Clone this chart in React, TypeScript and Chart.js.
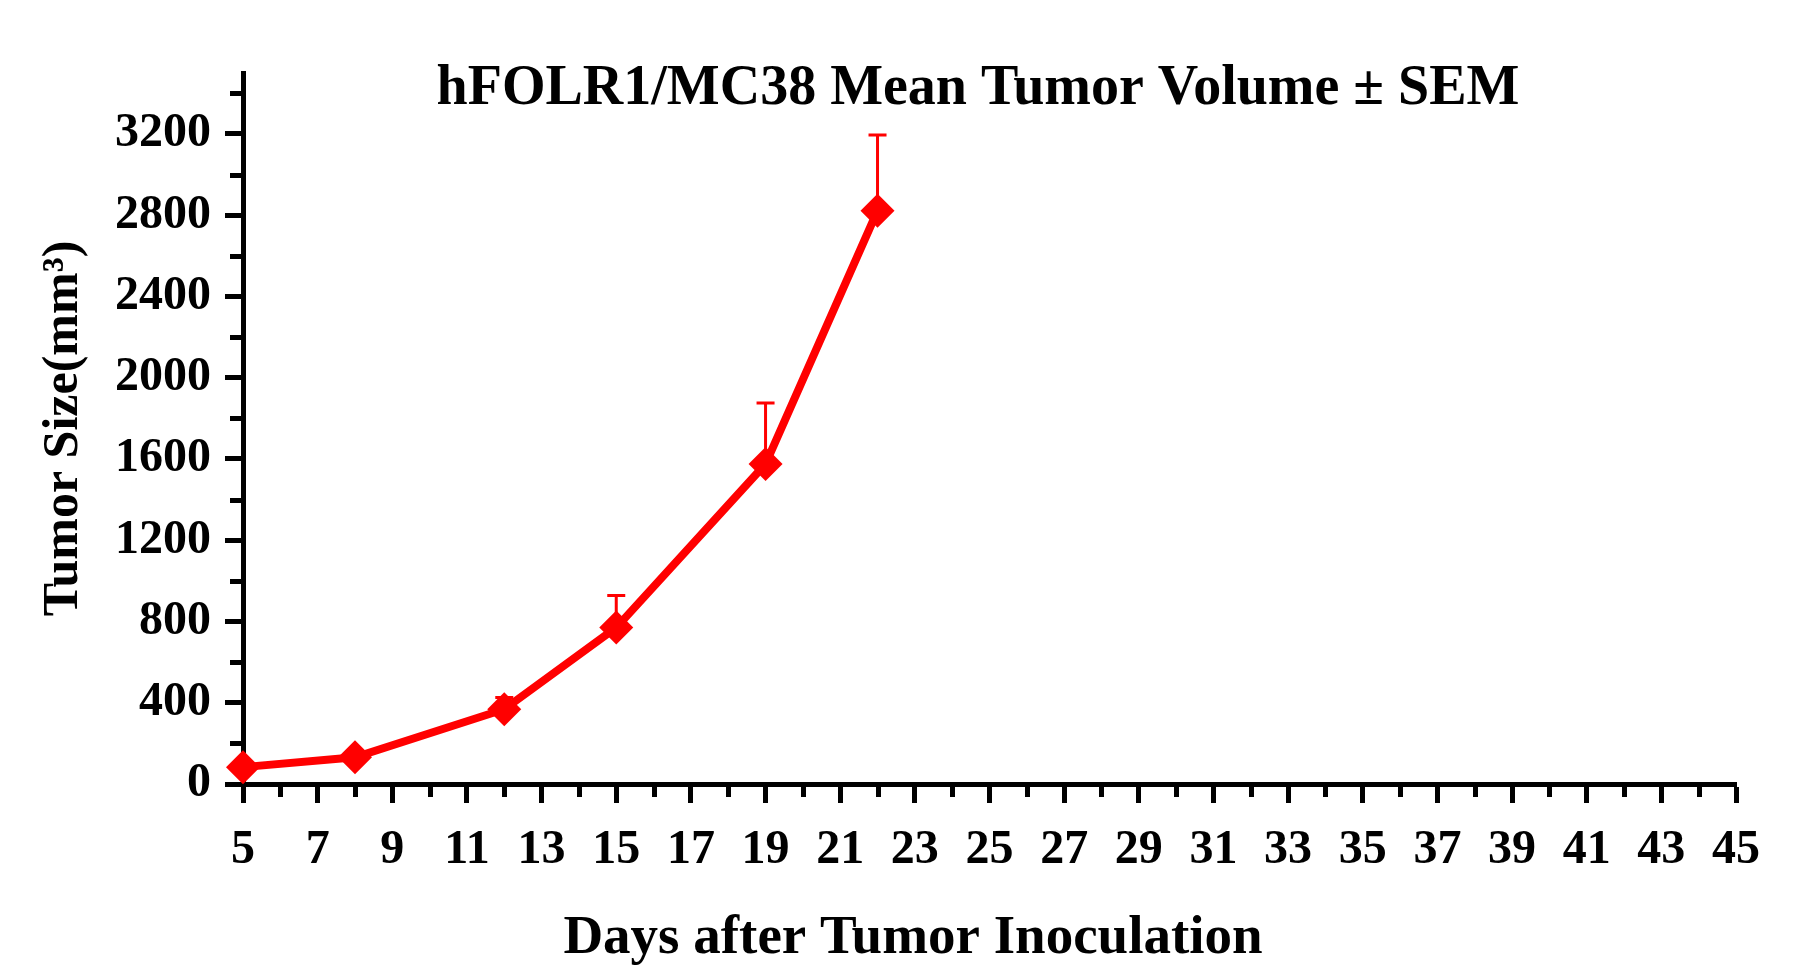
import React, { useEffect, useRef } from 'react';
import { Chart, registerables } from 'chart.js';

Chart.register(...registerables);

// ---- data ----
const days = [5, 8, 12, 15, 19, 22];
const meanVolume = [83, 132, 368, 770, 1575, 2822];
const semVolume = [15, 25, 58, 158, 300, 373];

const xMajorTicks = [5, 7, 9, 11, 13, 15, 17, 19, 21, 23, 25, 27, 29, 31, 33, 35, 37, 39, 41, 43, 45];
const xMinorTicks = [6, 8, 10, 12, 14, 16, 18, 20, 22, 24, 26, 28, 30, 32, 34, 36, 38, 40, 42, 44];
const yMajorTicks = [0, 400, 800, 1200, 1600, 2000, 2400, 2800, 3200];
const yMinorTicks = [200, 600, 1000, 1400, 1800, 2200, 2600, 3000, 3400];

const chartTitle = 'hFOLR1/MC38 Mean Tumor Volume \u00B1 SEM';
const xTitle = 'Days after Tumor Inoculation';
const yTitle = 'Tumor Size(mm\u00B3)';

const FONT = '"Liberation Serif", "Times New Roman", serif';
const RED = '#ff0000';

const W = 1802;
const H = 978;

const errorBarPlugin = {
  id: 'errorBars',
  beforeDatasetsDraw(chart: any) {
    const xs = chart.scales.x;
    const ys = chart.scales.y;
    const ctx = chart.ctx;
    ctx.save();
    ctx.strokeStyle = RED;
    ctx.lineWidth = 3;
    for (let i = 0; i < days.length; i++) {
      const x = xs.getPixelForValue(days[i]);
      const y0 = ys.getPixelForValue(meanVolume[i]);
      const y1 = ys.getPixelForValue(meanVolume[i] + semVolume[i]);
      ctx.beginPath();
      ctx.moveTo(x, y0);
      ctx.lineTo(x, y1);
      ctx.moveTo(x - 9, y1);
      ctx.lineTo(x + 9, y1);
      ctx.stroke();
    }
    ctx.restore();
  },
};

const minorTickPlugin = {
  id: 'minorTicks',
  beforeDatasetsDraw(chart: any) {
    const xs = chart.scales.x;
    const ys = chart.scales.y;
    const ctx = chart.ctx;
    const area = chart.chartArea;
    ctx.save();
    ctx.strokeStyle = '#000';
    ctx.lineWidth = 5;
    ctx.lineCap = 'butt';
    for (const v of xMinorTicks) {
      const x = Math.round(xs.getPixelForValue(v)) + 0.5;
      ctx.beginPath();
      ctx.moveTo(x, area.bottom);
      ctx.lineTo(x, area.bottom + 13);
      ctx.stroke();
    }
    for (const v of yMinorTicks) {
      const y = Math.round(ys.getPixelForValue(v)) + 0.5;
      ctx.beginPath();
      ctx.moveTo(area.left, y);
      ctx.lineTo(area.left - 13, y);
      ctx.stroke();
    }
    ctx.restore();
  },
};

const textPlugin = {
  id: 'overlayText',
  afterDraw(chart: any) {
    const ctx = chart.ctx;
    ctx.save();
    ctx.fillStyle = '#000';
    ctx.textAlign = 'center';
    ctx.textBaseline = 'alphabetic';
    ctx.font = `bold 56px ${FONT}`;
    ctx.fillText(chartTitle, 978, 104);
    ctx.font = `bold 55px ${FONT}`;
    ctx.fillText(xTitle, 913, 953);
    ctx.restore();
  },
};

export default function App() {
  const ref = useRef<HTMLCanvasElement | null>(null);

  useEffect(() => {
    if (!ref.current) return;
    const chart = new Chart(ref.current, {
      type: 'line',
      data: {
        datasets: [
          {
            label: 'hFOLR1/MC38',
            data: days.map((d, i) => ({ x: d, y: meanVolume[i] })),
            borderColor: RED,
            backgroundColor: RED,
            borderWidth: 8,
            pointStyle: 'rectRot',
            pointRadius: 17,
            pointBorderWidth: 0,
            pointBackgroundColor: RED,
            tension: 0,
            clip: false as any,
          },
        ],
      },
      options: {
        animation: false,
        responsive: false,
        devicePixelRatio: 1,
        layout: { padding: { left: 0, right: 66, top: 73, bottom: 0 } },
        plugins: {
          legend: { display: false },
          tooltip: { enabled: false },
          title: { display: false },
        },
        scales: {
          x: {
            type: 'linear',
            min: 5,
            max: 45,
            afterBuildTicks: (s: any) => {
              s.ticks = xMajorTicks.map((v) => ({ value: v }));
            },
            afterFit: (s: any) => {
              s.height = H - 784;
            },
            ticks: {
              autoSkip: false,
              maxRotation: 0,
              padding: 19,
              color: '#000',
              font: { family: FONT, size: 48, weight: 'bold' },
              callback: (v: any) => String(v),
            },
            grid: {
              drawOnChartArea: false,
              drawTicks: true,
              tickLength: 19,
              tickWidth: 5,
              tickColor: '#000',
            },
            border: { display: true, width: 5, color: '#000' },
          },
          y: {
            type: 'linear',
            min: 0,
            max: 3500,
            afterBuildTicks: (s: any) => {
              s.ticks = yMajorTicks.map((v) => ({ value: v }));
            },
            afterFit: (s: any) => {
              s.width = 243;
            },
            ticks: {
              autoSkip: false,
              padding: 14,
              color: '#000',
              font: { family: FONT, size: 48, weight: 'bold' },
              callback: (v: any) => String(v),
            },
            grid: {
              drawOnChartArea: false,
              drawTicks: true,
              tickLength: 18,
              tickWidth: 5,
              tickColor: '#000',
            },
            border: { display: true, width: 5, color: '#000' },
            title: {
              display: true,
              text: yTitle,
              color: '#000',
              font: { family: FONT, size: 50, weight: 'bold' },
              padding: { top: 34, bottom: 0 },
            },
          },
        },
      },
      plugins: [minorTickPlugin, errorBarPlugin, textPlugin],
    });
    return () => chart.destroy();
  }, []);

  return (
    <div style={{ position: 'absolute', left: 0, top: 0, width: W, height: H, background: '#fff' }}>
      <canvas ref={ref} width={W} height={H} style={{ width: W, height: H, display: 'block' }} />
    </div>
  );
}
